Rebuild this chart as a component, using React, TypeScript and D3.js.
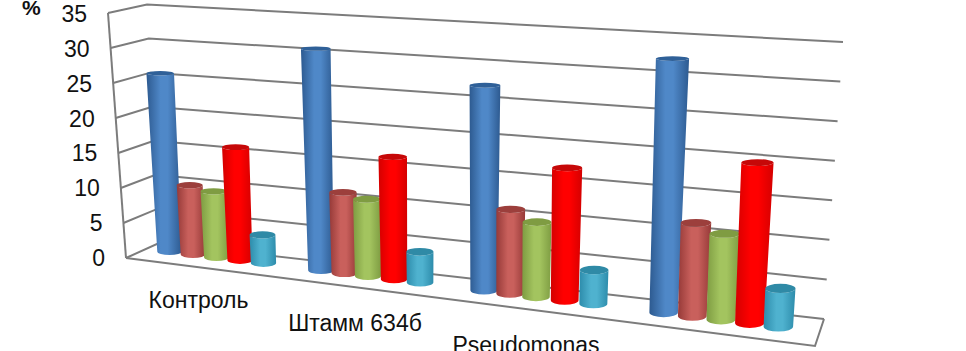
import React from "react";
import * as d3 from "d3";

const W = 966, H = 351;
const ticks = [0, 5, 10, 15, 20, 25, 30, 35];
const categories = ["Контроль", "Штамм 634б", "Pseudomonas"];
const labelX = [198.5, 355, 526];
const labelY = [308, 331, 353];

const seriesNames = ["blue", "brick", "green", "red", "cyan"];
const blue = [25.1, 30.3, 27.2, 32.6];
const brick = [9.7, 11.0, 11.1, 11.9];
const green = [9.2, 10.4, 9.8, 10.9];
const red = [15.7, 16.5, 17.3, 20.3];
const cyan = [3.9, 4.1, 4.4, 4.8];
const values = [blue, brick, green, red, cyan];
const fills = [
  { edge: "#2d5a90", mid: "#4f88c8", cap: "#2f6098" },
  { edge: "#963a38", mid: "#c9605c", cap: "#9c3f3c" },
  { edge: "#7e9c42", mid: "#a3c45f", cap: "#7f9c42" },
  { edge: "#d40000", mid: "#ff0000", cap: "#c60808" },
  { edge: "#2d8cab", mid: "#4fb2cf", cap: "#2f8aa6" },
];

// axis walls, measured in pixels against the value domain
const leftWallX = d3.scaleLinear().domain([0, 35]).range([126, 108]);
const leftWallY = d3.scaleLinear().domain([0, 35]).range([258, 13]);
const backLeftX = d3.scaleLinear().domain([0, 35]).range([159, 147]);
const backLeftY = d3.scaleLinear().domain([0, 35]).range([243, 4.5]);
const backRightX = d3.scaleLinear().domain([0, 35]).range([824, 843]);
const backRightY = d3.scaleLinear().domain([0, 35]).range([319, 42]);
const tickEndX = d3.scaleLinear().domain([0, 35]).range([105, 87]);
const tickBaseY = d3.scaleLinear().domain([0, 35]).range([266, 22]);

// bars
const catX = d3.scaleLinear().domain([0, 1, 2, 3]).range([216.5, 368, 536, 721]);
const baseY = d3.scaleLinear().domain([169, 781.5]).range([255, 332]);
const pxPerUnit = d3.scaleLinear().domain([169, 781.5]).range([7.1, 7.95]);
const baseWidth = d3.scaleLinear().domain([169, 781.5]).range([24.5, 29.5]);
const capRy = d3.scaleLinear().domain([169, 781.5]).range([3.6, 5]);
const groupStep = 0.155;
const vanishX = 455;

function bar(cat: number, s: number) {
  const v = values[s][cat];
  const xb = catX(cat + (s - 2) * groupStep);
  const ryB = capRy(xb);
  const ryT = ryB * (1 - v * 0.015);
  const yb = baseY(xb) - ryB;
  const xt = xb + (xb - vanishX) * v * 0.0013;
  const yt = yb - v * pxPerUnit(xb);
  const w0 = baseWidth(xb);
  const wt = w0 * (1 + v * 0.005);
  const a = wt / 2, b = w0 / 2;
  const d = `M${xt - a},${yt}A${a},${ryT} 0 0 0 ${xt + a},${yt}L${xb + b},${yb}A${b},${ryB} 0 0 1 ${xb - b},${yb}Z`;
  return { d, xt, yt, a, ryT };
}

export default function App() {
  return (
    <svg width={W} height={H} style={{ position: "absolute", left: 0, top: 0, background: "#fff", fontFamily: "'Liberation Sans', Arial, sans-serif" }}>
      <defs>
        {fills.map((f, i) => (
          <linearGradient key={i} id={`g${i}`} x1="0" x2="1" y1="0" y2="0">
            <stop offset="0" stopColor={f.edge} />
            <stop offset="0.4" stopColor={f.mid} />
            <stop offset="0.6" stopColor={f.mid} />
            <stop offset="1" stopColor={f.edge} />
          </linearGradient>
        ))}
      </defs>
      <g fill="none" stroke="#7c7c7c" strokeWidth={2}>
        {ticks.map((t) => (
          <polyline key={t} points={`${leftWallX(t)},${leftWallY(t)} ${backLeftX(t)},${backLeftY(t)} ${backRightX(t)},${backRightY(t)}`} />
        ))}
        <line x1={leftWallX(0)} y1={leftWallY(0)} x2={leftWallX(35)} y2={leftWallY(35)} />
        <polyline points={`${leftWallX(0)},${leftWallY(0)} 815,346 ${backRightX(0)},${backRightY(0)}`} />
      </g>
      {[0, 1, 2, 3].map((c) => (
        <g key={c}>
          {seriesNames.map((name, s) => {
            const b = bar(c, s);
            return (
              <g key={name}>
                <path d={b.d} fill={`url(#g${s})`} />
                <ellipse cx={b.xt} cy={b.yt} rx={b.a} ry={b.ryT} fill={fills[s].cap} />
              </g>
            );
          })}
        </g>
      ))}
      <g fontSize={23} fill="#111">
        {ticks.map((t) => (
          <text key={t} x={tickEndX(t)} y={tickBaseY(t)} textAnchor="end">{t}</text>
        ))}
        {categories.map((c, i) => (
          <text key={c} x={labelX[i]} y={labelY[i]} textAnchor="middle">{c}</text>
        ))}
        <text x={22} y={15} fontWeight="bold" fontSize={21}>%</text>
      </g>
    </svg>
  );
}
